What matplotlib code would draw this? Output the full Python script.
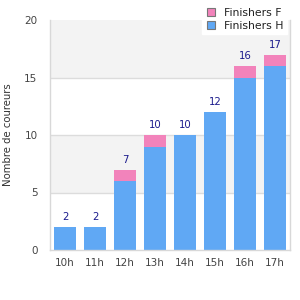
import matplotlib
matplotlib.use("Agg")
import matplotlib.pyplot as plt
from matplotlib.lines import Line2D
import numpy as np

categories = ["10h", "11h", "12h", "13h", "14h", "15h", "16h", "17h"]
finishers_h = [2, 2, 6, 9, 10, 12, 15, 16]
finishers_f = [0, 0, 1, 1, 0, 0, 1, 1]

blue = "#60a8f4"
pink = "#f283bb"

fig = plt.figure(figsize=(3, 3), dpi=100)
ax = fig.add_axes([50/300, 50/300, 240/300, 230/300])

x = np.arange(len(categories))
# alternating bands
for lo in [5, 15]:
    ax.axhspan(lo, lo + 5, color="#f3f3f3", zorder=0, lw=0)
for yv in [5, 10, 15]:
    ax.axhline(yv, color="#dcdcdc", lw=1, zorder=1)

w = 0.73
ax.bar(x, finishers_h, width=w, color=blue, zorder=2, label="Finishers H")
ax.bar(x, finishers_f, width=w, bottom=finishers_h, color=pink, zorder=2, label="Finishers F")

totals = [h + f for h, f in zip(finishers_h, finishers_f)]
for xi, t in zip(x, totals):
    ax.text(xi, t + 0.4, str(t), ha="center", va="bottom", fontsize=7.3, color="#1a1a8c")

ax.set_xlim(-0.5, len(categories) - 0.5)
ax.set_ylim(0, 20)
ax.set_yticks([0, 5, 10, 15, 20])
ax.set_xticks(x)
ax.set_xticklabels(categories)
ax.tick_params(axis="both", length=0, labelsize=7.5, colors="#444444")
ax.tick_params(axis="x", pad=6)
ax.tick_params(axis="y", pad=9)
for s in ["left", "bottom", "right"]:
    ax.spines[s].set_color("#d8d8d8")
    ax.spines[s].set_linewidth(1)
ax.spines["top"].set_visible(False)
ax.set_ylabel("Nombre de coureurs", fontsize=7.3, color="#333333", labelpad=8)

handles = [
    Line2D([], [], marker="s", linestyle="none", markersize=6, markerfacecolor=pink, markeredgecolor="#777777", markeredgewidth=0.8),
    Line2D([], [], marker="s", linestyle="none", markersize=6, markerfacecolor=blue, markeredgecolor="#777777", markeredgewidth=0.8),
]
leg = fig.legend(handles, ["Finishers F", "Finishers H"], loc="upper right",
                 bbox_to_anchor=(292/300, 1.0), fontsize=7.8, frameon=True,
                 fancybox=False, edgecolor="white", facecolor="white", framealpha=1,
                 handletextpad=0.6, borderpad=0.25, labelspacing=0.25, handlelength=1.2)
for t in leg.get_texts():
    t.set_color("#222222")

fig.savefig("out.png", dpi=100)
